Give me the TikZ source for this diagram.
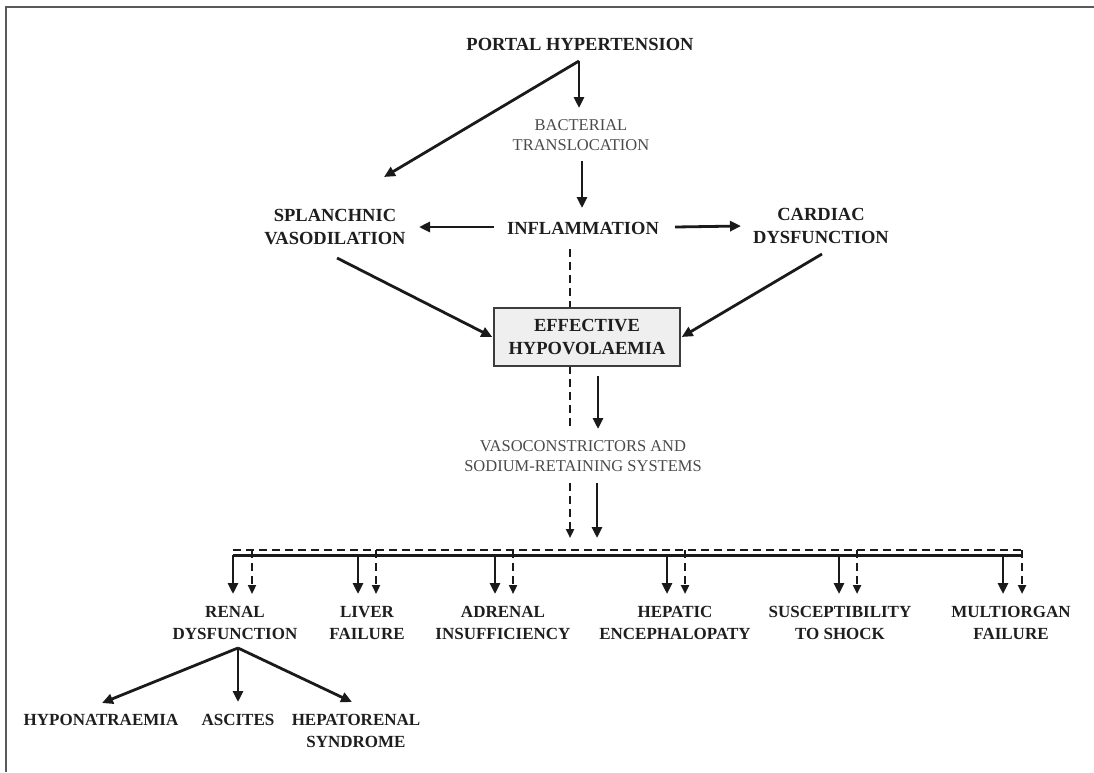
\documentclass[tikz,border=0pt]{standalone}
\usepackage{fontspec}
\setmainfont{Liberation Serif}
\usetikzlibrary{arrows.meta,calc}
\definecolor{txt}{HTML}{1E1E1E}
\definecolor{ln}{HTML}{1A1A1A}
\definecolor{gtxt}{HTML}{4A4A4A}
\definecolor{boxfill}{HTML}{EFEFEF}
\definecolor{frm}{HTML}{5A5A5A}
\begin{document}
\begin{tikzpicture}[x=1pt,y=-1pt,
  lab/.style={font=\fontsize{18.5}{23}\selectfont\bfseries, align=center, inner sep=0pt, text=txt},
  low/.style={font=\fontsize{17}{22}\selectfont\bfseries, align=center, inner sep=0pt, text=txt},
  sub/.style={font=\fontsize{16.5}{20}\selectfont, align=center, inner sep=0pt, text=gtxt},
  arr/.style={line width=2.8pt, draw=ln, -{Triangle[length=11pt,width=10pt]}},
  darr/.style={line width=2.2pt, draw=ln, dash pattern=on 8pt off 5pt, -{Triangle[length=9pt,width=8pt]}},
  dline/.style={line width=2.2pt, draw=ln, dash pattern=on 8pt off 5pt},
  bus/.style={line width=3pt, draw=ln},
  frame/.style={line width=2pt, draw=frm},
  hbox/.style={draw=ln!85, line width=1.4pt, fill=boxfill, minimum width=186pt, minimum height=58pt, align=center, inner sep=0pt, font=\fontsize{18.5}{23}\selectfont\bfseries, text=txt}
]
\useasboundingbox (0,0) rectangle (1094,772);
\draw[frame] (6,772) -- (6,7) -- (1094,7);

% nodes
\node[lab] (ph) at (580,44) {PORTAL HYPERTENSION};
\node[sub] (bt) at (581,135) {BACTERIAL\\TRANSLOCATION};
\node[lab] (inf) at (583,228) {INFLAMMATION};
\node[lab] (sv) at (335,227) {SPLANCHNIC\\VASODILATION};
\node[lab] (cd) at (821,226) {CARDIAC\\DYSFUNCTION};
\node[sub] (vs) at (583,456) {VASOCONSTRICTORS AND\\SODIUM-RETAINING SYSTEMS};

% dashed line behind box
\coordinate (dtop) at (570,249);
\coordinate (dbot) at (570,429);
\draw[dline] (dtop) -- (dbot);

\node[hbox] (eh) at (587,337) {EFFECTIVE\\HYPOVOLAEMIA};

\node[low] (rd) at (235,623) {RENAL\\DYSFUNCTION};
\node[low] (lf) at (367,623) {LIVER\\FAILURE};
\node[low] (ai) at (503,623) {ADRENAL\\INSUFFICIENCY};
\node[low] (he) at (675,623) {HEPATIC\\ENCEPHALOPATY};
\node[low] (ss) at (840,623) {SUSCEPTIBILITY\\TO SHOCK};
\node[low] (mf) at (1011,623) {MULTIORGAN\\FAILURE};

\node[low] (hy) at (101,720) {HYPONATRAEMIA};
\node[low] (as) at (238,720) {ASCITES};
\node[low] (hr) at (356,731) {HEPATORENAL\\SYNDROME};

% top connectors
\coordinate (apex) at (579,61);
\coordinate (btin) at (579,108);
\coordinate (svin) at (384,177);
\draw[arr] (apex) -- (btin);
\draw[arr] (apex) -- (svin);
\coordinate (btout) at (582,161);
\coordinate (infin) at (582,208);
\draw[arr] (btout) -- (infin);
\coordinate (infl) at (494,227);
\coordinate (svr) at (419,227);
\draw[arr] (infl) -- (svr);
\coordinate (infr) at (675,227);
\coordinate (cdl) at (741,226);
\draw[arr] (infr) -- (cdl);
\coordinate (svout) at (337,258);
\coordinate (cdout) at (822,254);
\draw[arr] (svout) -- ($(eh.west)+(-1,0)$);
\draw[arr] (cdout) -- ($(eh.east)+(1,0)$);
\coordinate (ehout) at (598,376);
\coordinate (vsin) at (598,429);
\draw[arr] (ehout) -- (vsin);

% below vasoconstrictors
\coordinate (vd1) at (570,483);
\coordinate (vd2) at (570,538);
\coordinate (vs1) at (597,483);
\coordinate (vs2) at (597,538);
\draw[darr] (vd1) -- (vd2);
\draw[arr] (vs1) -- (vs2);

% bus lines
\coordinate (bl) at (233,555);
\coordinate (br) at (1022,555);
\coordinate (dl) at (233,550);
\coordinate (dr) at (1022,550);
\draw[dline] (dl) -- (dr);
\draw[bus] (bl) -- (br);

% drops
\foreach \s/\d in {233/252, 358/376, 495/513, 667/685, 839/857, 1003/1022}{
  \draw[arr] (\s,555) -- (\s,594);
  \draw[darr] (\d,550) -- (\d,594);
}

% renal sub arrows
\coordinate (rdout) at (238,648);
\draw[arr] (rdout) -- (102,703);
\draw[arr] (rdout) -- (238,702);
\draw[arr] (rdout) -- (352,702);
\end{tikzpicture}
\end{document}
